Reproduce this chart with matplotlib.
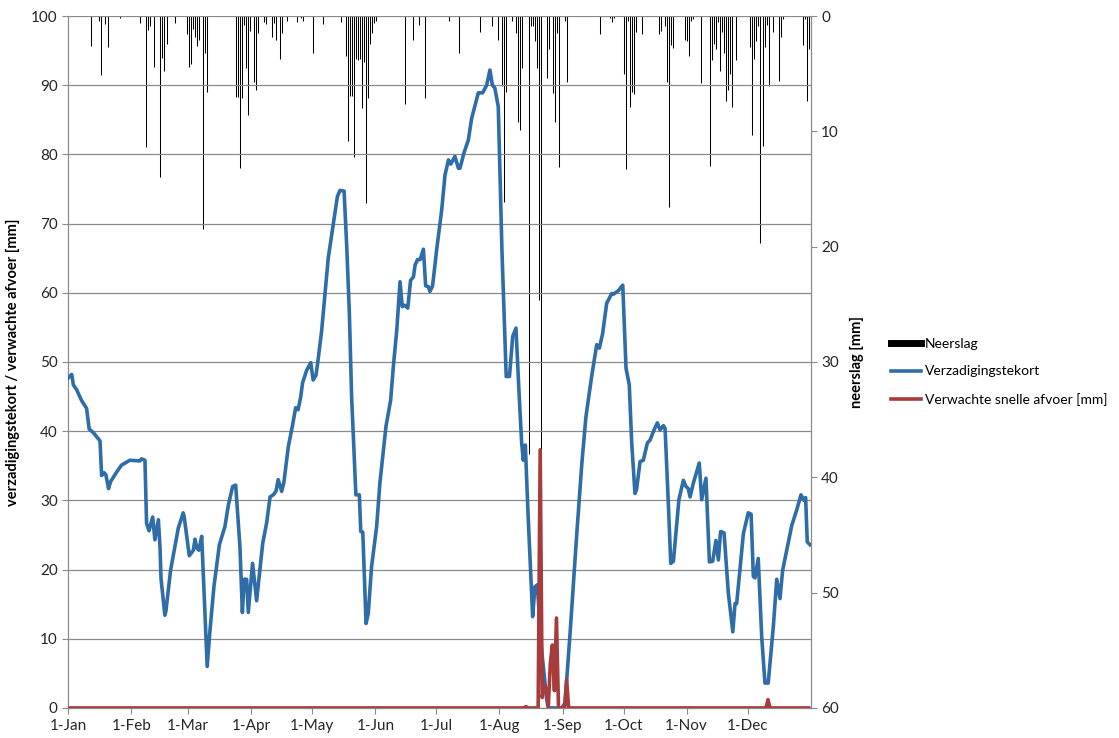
import matplotlib
matplotlib.use("Agg")
import matplotlib.pyplot as plt
from matplotlib.lines import Line2D

plt.rcParams['font.family'] = ['Lato', 'DejaVu Sans']

# month starts (day of year, 0 = 1 Jan)
month_days = [0, 31, 59, 90, 120, 151, 181, 212, 243, 273, 304, 334]
month_labels = ['1-Jan', '1-Feb', '1-Mar', '1-Apr', '1-May', '1-Jun',
                '1-Jul', '1-Aug', '1-Sep', '1-Oct', '1-Nov', '1-Dec']

# daily precipitation [mm] (day of year, amount)
rain_days = [11, 15, 16, 18, 19, 25, 35, 38, 39, 40, 42, 45, 46, 47, 48, 52,
             58, 59, 60, 61, 62, 63, 64, 66, 67, 68, 82, 83, 84, 85, 86, 87,
             88, 89, 91, 92, 93, 96, 97, 100, 101, 102, 104, 105, 107, 112,
             114, 115, 120, 125, 134, 136, 137, 138, 139, 140, 141, 142, 143,
             144, 145, 146, 147, 148, 149, 150, 151, 165, 169, 172, 175, 187,
             192, 202, 208, 211, 213, 214, 215, 218, 220, 221, 222, 223, 226,
             227, 228, 229, 230, 231, 232, 235, 236, 238, 239, 240, 241, 244,
             245, 261, 266, 267, 268, 273, 274, 275, 276, 277, 278, 279, 282,
             290, 291, 293, 294, 295, 296, 297, 303, 304, 305, 306, 307, 311,
             315, 316, 317, 318, 319, 320, 321, 322, 323, 324, 325, 326, 328,
             335, 336, 337, 338, 339, 340, 341, 342, 343, 344, 346, 349, 350,
             351, 361, 362, 363, 364]
rain_mm = [2.6, 0.4, 5.1, 0.7, 2.7, 0.2, 0.6, 11.4, 1.2, 0.9, 4.4, 14.0, 3.6,
           4.8, 2.4, 0.6, 1.6, 4.4, 4.2, 1.1, 1.8, 2.6, 2.1, 18.5, 3.2, 6.6,
           7.0, 7.0, 13.2, 7.1, 0.8, 4.5, 8.6, 1.3, 5.7, 6.4, 1.5, 0.5, 0.7,
           1.8, 0.6, 2.1, 3.7, 1.5, 0.4, 0.5, 0.2, 0.4, 3.2, 0.7, 0.5, 3.5,
           10.8, 6.9, 6.9, 12.2, 3.7, 3.8, 3.7, 8.0, 4.0, 16.2, 7.1, 2.4,
           1.5, 0.6, 0.4, 7.6, 2.1, 0.8, 7.1, 0.4, 3.2, 1.4, 0.9, 2.1, 6.1,
           16.1, 6.6, 0.4, 1.5, 9.2, 9.9, 4.5, 38.0, 0.9, 0.9, 2.2, 4.5, 24.6,
           45.0, 5.4, 2.9, 6.7, 9.2, 1.5, 13.1, 0.4, 5.7, 1.6, 0.2, 0.5, 0.2,
           5.0, 13.3, 0.4, 7.9, 6.6, 6.8, 1.4, 1.6, 1.6, 1.3, 0.9, 5.7, 16.6,
           2.5, 2.8, 2.1, 2.2, 3.5, 0.4, 0.3, 5.8, 13.0, 3.8, 2.4, 2.9, 0.5,
           4.8, 1.4, 3.2, 7.4, 6.4, 5.0, 7.9, 3.8, 2.7, 10.3, 3.7, 2.2, 0.9,
           19.7, 11.3, 2.7, 0.8, 6.1, 1.4, 5.6, 1.8, 0.3, 2.5, 0.3, 7.4, 2.9]

# saturation deficit [mm]
deficit_days = [0, 1.7, 2.5, 4.1, 6.6, 9.0, 10.3, 12.3, 15.6, 16.4, 17.6, 18.5,
                19.8, 20.8, 23.8, 26.2, 30.3, 35.2, 36.0, 37.7, 38.5, 39.7,
                41.5, 42.6, 44.3, 45.1, 45.6, 47.5, 48.0, 50.3, 54.1, 56.5,
                57.0, 59.5, 61.5, 62.3, 63.2, 64.2, 65.6, 66.7, 68.3, 69.7,
                71.6, 74.3, 77.0, 78.7, 80.8, 82.3, 84.4, 85.6, 86.5, 87.7,
                88.5, 90.6, 92.6, 94.2, 95.6, 97.5, 99.2, 100.8, 102.1, 103.2,
                104.9, 106.0, 108.2, 110.3, 111.8, 113.0, 114.3, 115.2, 117.2,
                119.2, 120.4, 121.8, 122.9, 124.6, 127.8, 129.5, 132.3, 133.6,
                135.6, 136.9, 138.2, 139.3, 141.4, 143.1, 143.8, 144.8, 146.4,
                147.5, 149.1, 151.6, 153.2, 156.2, 158.5, 159.8, 161.5, 163.1,
                164.2, 165.4, 166.9, 168.3, 169.7, 170.5, 171.7, 173.0, 174.6,
                175.7, 177.0, 177.8, 179.1, 181.1, 183.6, 185.2, 186.9, 188.0,
                190.1, 191.8, 192.6, 194.5, 196.7, 198.3, 201.6, 203.7, 205.7,
                207.3, 208.5, 209.7, 211.4, 213.2, 215.3, 216.9, 218.5, 220.1,
                221.7, 222.9, 223.7, 224.7, 226.1, 228.3, 229.4, 230.6, 232.7,
                235.2, 236.0, 242.6, 244.2, 246.7, 250.0, 252.5, 254.5, 257.3,
                259.8, 261.1, 262.7, 264.7, 267.2, 268.0, 270.4, 272.6, 274.2,
                275.8, 277.0, 278.6, 279.4, 281.1, 282.7, 284.7, 286.0, 288.0,
                289.6, 290.9, 292.6, 293.4, 295.0, 296.2, 297.5, 300.2, 302.4,
                303.7, 304.8, 305.7, 307.3, 310.2, 311.4, 313.5, 315.2, 316.8,
                318.4, 319.6, 320.7, 322.4, 324.5, 326.7, 327.8, 328.6, 331.9,
                334.3, 335.7, 336.8, 337.6, 339.2, 340.9, 342.5, 344.1, 346.6,
                348.3, 349.9, 351.2, 353.2, 355.7, 358.1, 360.2, 361.7, 362.5,
                363.3, 364.6]
deficit_mm = [47.7, 48.2, 46.7, 46.0, 44.4, 43.3, 40.3, 39.8, 38.6, 33.6, 34.0,
              33.7, 31.7, 32.7, 34.1, 35.1, 35.8, 35.7, 36.0, 35.8, 26.7, 25.6,
              27.6, 24.3, 27.2, 23.3, 18.7, 13.4, 14.0, 19.9, 26.0, 28.2, 27.6,
              22.0, 22.8, 24.4, 23.1, 22.8, 24.8, 17.0, 6.0, 11.3, 17.5, 23.6,
              26.2, 29.3, 32.0, 32.2, 23.3, 13.8, 18.6, 18.6, 13.8, 20.9, 15.5,
              19.9, 23.8, 26.7, 30.5, 30.8, 31.3, 33.0, 31.3, 32.6, 37.8, 40.9,
              43.4, 43.1, 45.0, 47.0, 48.8, 49.9, 47.4, 48.1, 50.5, 54.6, 65.0,
              68.4, 73.9, 74.8, 74.7, 66.7, 57.0, 45.0, 30.8, 30.8, 25.5, 25.4,
              12.2, 13.7, 20.4, 26.2, 32.5, 40.7, 44.5, 49.3, 54.6, 61.6, 58.0,
              58.2, 57.8, 61.8, 62.3, 64.0, 64.8, 64.8, 66.3, 61.0, 60.9, 60.2,
              61.0, 66.2, 72.0, 77.0, 79.2, 78.6, 79.7, 78.0, 78.0, 80.2, 82.1,
              85.2, 88.9, 88.9, 90.0, 92.2, 90.0, 89.6, 86.9, 66.2, 47.9, 47.9,
              53.7, 54.9, 45.0, 38.3, 35.8, 38.0, 27.6, 13.2, 17.5, 17.8, 8.4,
              1.2, 0.0, 0.0, 0.7, 10.8, 25.2, 35.4, 42.1, 47.9, 52.5, 52.0,
              54.1, 58.5, 59.9, 59.8, 60.3, 61.1, 49.1, 46.7, 38.3, 31.0, 31.6,
              35.6, 35.8, 38.3, 38.7, 40.2, 41.2, 40.2, 40.8, 40.4, 29.6, 20.9,
              21.2, 30.1, 32.9, 32.0, 31.7, 30.5, 32.5, 35.4, 30.1, 33.2, 21.1,
              21.2, 24.2, 21.4, 25.5, 25.3, 16.6, 11.0, 15.1, 15.1, 25.2, 28.2,
              28.0, 19.0, 18.8, 21.6, 10.3, 3.6, 3.6, 11.7, 18.6, 15.8, 19.9,
              22.8, 26.4, 28.6, 30.8, 30.0, 30.4, 24.0, 23.6]

# expected quick runoff [mm]
runoff_days = [0, 224, 225, 226, 231, 232, 233, 234, 235, 236, 237, 238, 239,
               240, 241, 244, 245, 246, 343, 344, 345, 364]
runoff_mm = [0, 0, 0.2, 0, 0, 37.3, 1.5, 3.3, 2.7, 0.2, 6.5, 9.1, 2.5, 13.0,
             0, 0, 4.0, 0, 0, 1.2, 0, 0]

blue = '#2e6da8'
red = '#a83b3b'
grid_col = '#8a8a8a'
text_col = '#262626'

fig = plt.figure(figsize=(11.19, 7.38), dpi=100)
ax = fig.add_axes([0.061, 0.0407, 0.6635, 0.9376])
ax2 = ax.twinx()

# precipitation bars hanging from the top (right axis, inverted), one pixel wide
rain_x = [d + 0.3 for d in rain_days]
ax2.vlines(rain_x, 0, rain_mm, colors='black', lw=0.75)
ax2.set_ylim(60, 0)
ax2.set_yticks(range(0, 61, 10))

ax.set_zorder(ax2.get_zorder() + 1)
ax.patch.set_visible(False)

ax.plot(deficit_days, deficit_mm, color=blue, lw=2.6, solid_joinstyle='round', zorder=3)
ax.plot(runoff_days, runoff_mm, color=red, lw=2.6, solid_joinstyle='round', zorder=4)

ax.set_xlim(0, 365)
ax.set_ylim(0, 100)
ax.set_yticks(range(0, 101, 10))
ax.set_xticks(month_days)
ax.set_xticklabels(month_labels)
ax.grid(axis='y', color=grid_col, lw=0.9)
ax.set_axisbelow(True)

for a in (ax, ax2):
    for s in a.spines.values():
        s.set_color(grid_col)
    a.spines['top'].set_visible(False)
    a.tick_params(colors=grid_col, labelcolor=text_col, labelsize=11, length=4)
ax.tick_params(axis='x', pad=4)

ax.set_ylabel('verzadigingstekort / verwachte afvoer [mm]', fontsize=10.5,
              fontweight='bold', color='black', labelpad=8)
ax2.set_ylabel('neerslag [mm]', fontsize=10.5, fontweight='bold', color='black',
               labelpad=8)

handles = [Line2D([], [], color='black', lw=5),
           Line2D([], [], color=blue, lw=2.6),
           Line2D([], [], color=red, lw=2.6)]
labels = ['Neerslag', 'Verzadigingstekort', 'Verwachte snelle afvoer [mm]']
fig.legend(handles, labels, loc='center left', bbox_to_anchor=(0.796, 0.496),
           frameon=False, fontsize=10, handlelength=2.2, handletextpad=0.25,
           labelspacing=1.1, borderaxespad=0, borderpad=0)

fig.savefig('out.png', dpi=100)
